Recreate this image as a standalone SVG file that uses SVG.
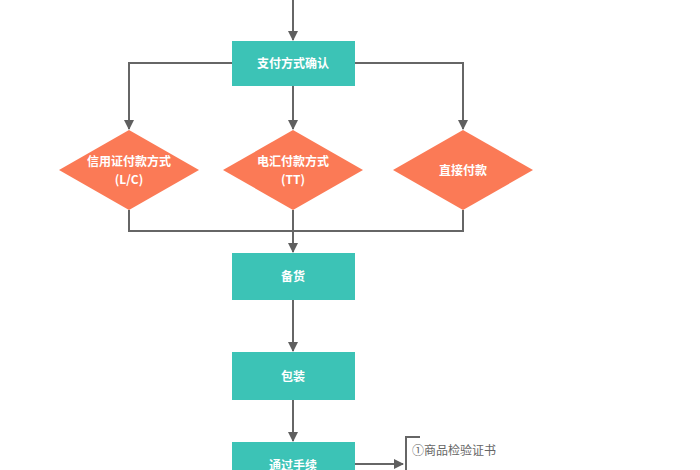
<svg xmlns="http://www.w3.org/2000/svg" width="700" height="470" viewBox="0 0 700 470">
<defs>
<marker id="ah" markerWidth="10" markerHeight="10" refX="9" refY="5" orient="auto" markerUnits="userSpaceOnUse"><path d="M0,0 L10,5 L0,10 Z" fill="#5f5f5f"/></marker>
<style>
.r{fill:#3cc3b6}
.d{fill:#fb7a56}
.l{fill:none;stroke:#666;stroke-width:2}
.t{font-family:"Noto Sans CJK SC","Liberation Sans",sans-serif;font-size:12px;font-weight:bold;fill:#fff;text-anchor:middle}
.n{font-family:"Noto Sans CJK SC","Liberation Sans",sans-serif;font-size:12px;fill:#666}
</style>
</defs>
<rect width="700" height="470" fill="#fff"/>
<g id="connectors">
<path class="l" d="M293,0 V40" marker-end="url(#ah)"/>
<path class="l" d="M232,63 H129 V129" marker-end="url(#ah)"/>
<path class="l" d="M293,86 V129" marker-end="url(#ah)"/>
<path class="l" d="M355,63 H463 V129" marker-end="url(#ah)"/>
<path class="l" d="M129,210 V231 H463 V210"/>
<path class="l" d="M293,210 V252" marker-end="url(#ah)"/>
<path class="l" d="M293,300 V351" marker-end="url(#ah)"/>
<path class="l" d="M293,400 V441" marker-end="url(#ah)"/>
<path class="l" d="M355,464 H403" marker-end="url(#ah)"/>
<path class="l" d="M420,437 H406 V470"/>
</g>
<g id="n1"><rect class="r" x="232" y="41" width="123" height="45"/><text class="t" x="293" y="68">支付方式确认</text></g>
<g id="n2"><polygon class="d" points="129,130 199,170 129,210 59,170"/><text class="t" x="129" y="166">信用证付款方式</text><text class="t" x="129" y="184">(L/C)</text></g>
<g id="n3"><polygon class="d" points="293,130 363,170 293,210 223,170"/><text class="t" x="293" y="166">电汇付款方式</text><text class="t" x="293" y="184">(TT)</text></g>
<g id="n4"><polygon class="d" points="463,130 533,170 463,210 393,170"/><text class="t" x="463" y="175">直接付款</text></g>
<g id="n5"><rect class="r" x="232" y="253" width="123" height="47"/><text class="t" x="293" y="281">备货</text></g>
<g id="n6"><rect class="r" x="232" y="352" width="123" height="48"/><text class="t" x="293" y="381">包装</text></g>
<g id="n7"><rect class="r" x="232" y="442" width="123" height="40"/><text class="t" x="293" y="470">通过手续</text></g>
<g id="note"><text class="n" x="412" y="455">①商品检验证书</text></g>
</svg>
